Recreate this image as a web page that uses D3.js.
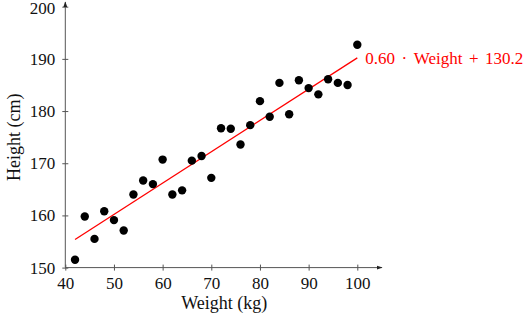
<!DOCTYPE html>
<html>
<head>
<meta charset="utf-8">
<script src="https://cdn.jsdelivr.net/npm/d3@7"></script>
<style>
  body { margin: 0; background: #fff; }
  text { font-family: "Liberation Serif", "DejaVu Serif", serif; }
</style>
</head>
<body>
<div id="chart"></div>
<script>
// data
const weights = [42, 44, 46, 48, 50, 52, 54, 56, 58, 60, 62, 64, 66, 68, 70,
                 72, 74, 76, 78, 80, 82, 84, 86, 88, 90, 92, 94, 96, 98, 100];
const heights = [151.5, 159.8, 155.5, 160.8, 159.1, 157.1, 164.0, 166.7, 166.0, 170.7,
                 164.0, 164.8, 170.5, 171.4, 167.2, 176.7, 176.6, 173.6, 177.3, 181.9,
                 178.9, 185.4, 179.4, 185.9, 184.4, 183.2, 186.1, 185.4, 185.0, 192.7];
const slope = 0.60;
const intercept = 130.2;
const xTicks = [40, 50, 60, 70, 80, 90, 100];
const yTicks = [150, 160, 170, 180, 190, 200];

const width = 524;
const height = 317;

const svg = d3.select('#chart')
    .append('svg')
        .attr('width', width)
        .attr('height', height);

const x = d3.scaleLinear()
    .domain([40, 100])
    .range([65.3, 357.3]);

const y = d3.scaleLinear()
    .domain([150, 200])
    .range([267.6, 6.7]);

const axisColor = '#555';
const textColor = '#111';

// arrow marker
svg.append('defs').append('marker')
    .attr('id', 'arrow')
    .attr('viewBox', '0 0 10 10')
    .attr('refX', 9).attr('refY', 5)
    .attr('markerWidth', 6).attr('markerHeight', 6)
    .attr('orient', 'auto')
    .append('path')
        .attr('d', 'M0,1.5 L10,5 L0,8.5 Z')
        .attr('fill', '#222');

function xAxis(g) {
    g.attr('transform', `translate(0, ${y(150)})`)
        .call(d3.axisBottom(x).tickValues(xTicks).tickSize(3).tickPadding(6).tickSizeOuter(0))
        .attr('font-size', '17px')
        .attr('font-family', '"Liberation Serif", serif');
    g.select('.domain').remove();
    g.selectAll('.tick line').attr('y1', -3).attr('y2', 3).attr('stroke', axisColor);
    g.selectAll('.tick text').attr('fill', textColor);
    g.append('line')
        .attr('x1', x(40)).attr('x2', 382)
        .attr('stroke', axisColor)
        .attr('marker-end', 'url(#arrow)');
}

function yAxis(g) {
    g.attr('transform', `translate(${x(40)}, 0)`)
        .call(d3.axisLeft(y).tickValues(yTicks).tickSize(3).tickPadding(7).tickSizeOuter(0))
        .attr('font-size', '17px')
        .attr('font-family', '"Liberation Serif", serif');
    g.select('.domain').remove();
    g.selectAll('.tick line').attr('x1', -3).attr('x2', 3).attr('stroke', axisColor);
    g.selectAll('.tick text').attr('fill', textColor)
        .attr('dy', d => d === 200 ? '0.4em' : '0.32em');
    g.append('line')
        .attr('y1', y(150)).attr('y2', 2)
        .attr('stroke', axisColor)
        .attr('marker-end', 'url(#arrow)');
}

svg.append('g').call(xAxis);
svg.append('g').call(yAxis);

// fit line
const fit = d => slope * d + intercept;
const wMin = d3.min(weights), wMax = d3.max(weights);
svg.append('line')
    .attr('x1', x(wMin)).attr('y1', y(fit(wMin)))
    .attr('x2', x(wMax)).attr('y2', y(fit(wMax)))
    .attr('stroke', '#f00')
    .attr('stroke-width', 1.3);

const eqParts = [slope.toFixed(2), '\u00b7', 'Weight', '+', intercept.toFixed(1)];
svg.append('text')
    .attr('x', x(wMax) + 8)
    .attr('y', y(fit(wMax)) + 6)
    .attr('fill', '#f00')
    .attr('font-size', '17px')
    .selectAll('tspan')
    .data(eqParts)
    .join('tspan')
        .attr('dx', (d, i) => i === 0 ? 0 : 6.5)
        .text(d => d);

// points
svg.append('g')
    .attr('fill', '#000')
    .selectAll('circle')
    .data(weights.map((w, i) => ({w: w, h: heights[i]})))
    .join('circle')
        .attr('cx', d => x(d.w))
        .attr('cy', d => y(d.h))
        .attr('r', 4.2);

// axis titles
svg.append('text')
    .attr('x', (x(40) + x(100)) / 2 + 13)
    .attr('y', 309)
    .attr('text-anchor', 'middle')
    .attr('font-size', '18px')
    .attr('fill', textColor)
    .text('Weight (kg)');

svg.append('text')
    .attr('transform', `translate(20, ${y(175)}) rotate(-90)`)
    .attr('text-anchor', 'middle')
    .attr('font-size', '18px')
    .attr('fill', textColor)
    .text('Height (cm)');
</script>
</body>
</html>
